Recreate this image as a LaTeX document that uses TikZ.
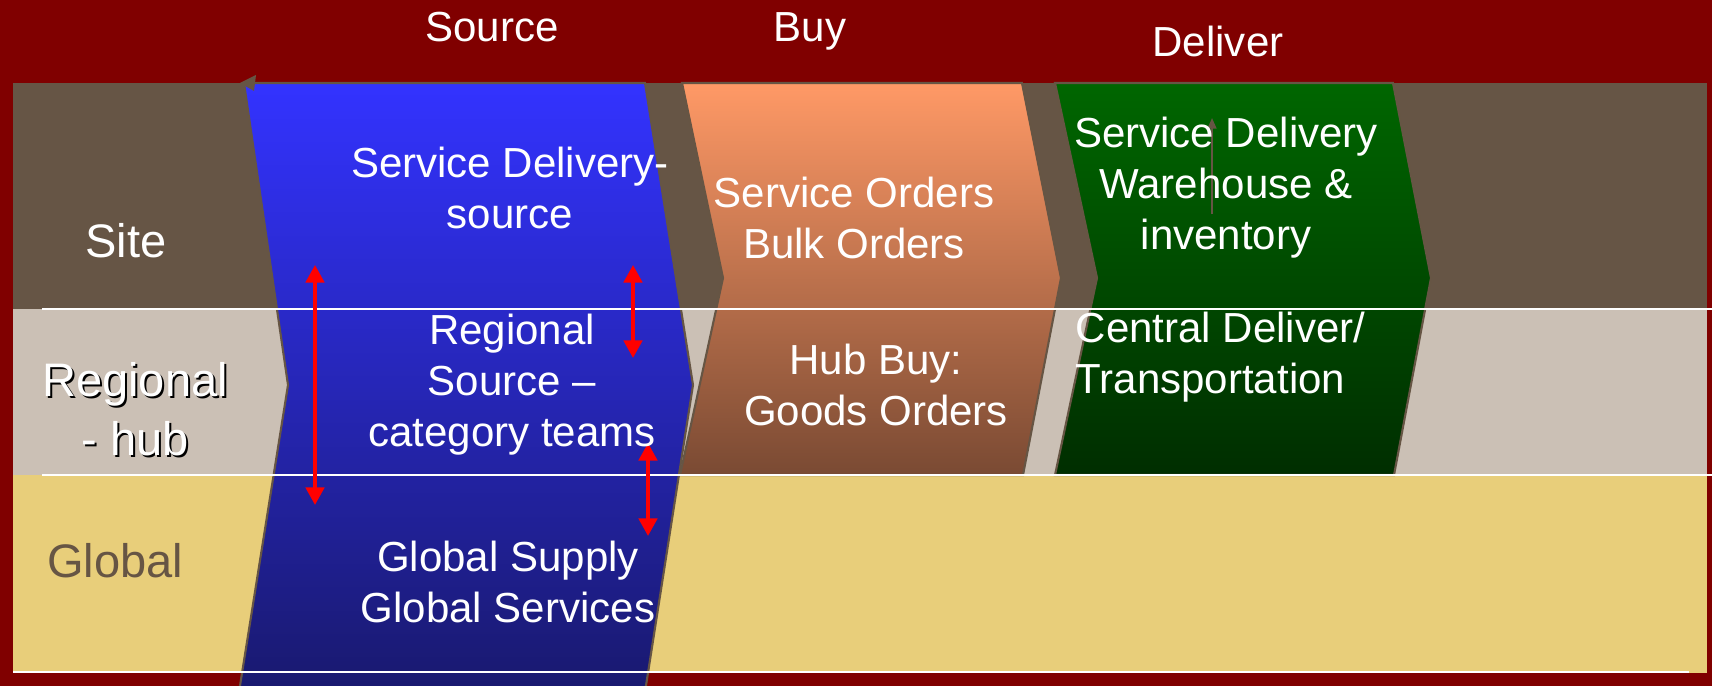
\documentclass[tikz,border=0pt]{standalone}
\usepackage{fontspec}
\setmainfont{Liberation Sans}
\usetikzlibrary{arrows.meta}
\definecolor{bgred}{RGB}{128,0,0}
\definecolor{sitebrown}{RGB}{102,85,69}
\definecolor{regtaupe}{RGB}{203,192,181}
\definecolor{globyel}{RGB}{232,206,122}
\definecolor{bluetop}{RGB}{51,51,255}
\definecolor{bluebot}{RGB}{25,25,110}
\definecolor{orangetop}{RGB}{255,153,102}
\definecolor{orangebot}{RGB}{122,74,51}
\definecolor{greentop}{RGB}{0,102,0}
\definecolor{greenbot}{RGB}{0,46,0}
\definecolor{edgegray}{RGB}{102,85,68}
\definecolor{arrred}{RGB}{255,0,0}
\newcommand\mlines[1]{\begin{tabular}[t]{@{}c@{}}#1\end{tabular}}
\newcommand\mlinesl[1]{\begin{tabular}[t]{@{}l@{}}#1\end{tabular}}
\begin{document}
\begin{tikzpicture}[x=0.01cm,y=-0.01cm,
  txt/.style={text=white,inner sep=0pt,anchor=base,font=\fontsize{11.95pt}{14.5pt}\selectfont},
  lbl/.style={inner sep=0pt,anchor=base,font=\fontsize{13.37pt}{16.5pt}\selectfont},
  lane/.style={draw=edgegray,line width=0.6pt,line join=miter},
  sep/.style={draw=white,line width=0.6pt},
  link/.style={draw=arrred,line width=1.1pt,{Triangle[length=5pt,width=5.2pt]}-{Triangle[length=5pt,width=5.2pt]}}
]
\fill[bgred] (0,0) rectangle (1712,686);
\useasboundingbox (0,0) rectangle (1712,686);
% bands
\fill[sitebrown] (13,83) rectangle (1707,309);
\fill[regtaupe] (13,309) rectangle (1707,475);
\fill[globyel] (13,475) rectangle (1707,673);
% Source chevron
\path[lane,top color=bluetop,bottom color=bluebot]
  (244,83) -- (645,83) -- (693,385) -- (645,692) -- (239,692) -- (288,385) -- cycle;
% Buy chevron
\path[lane,top color=orangetop,bottom color=orangebot]
  (682,83) -- (1022,83) -- (1061,278) -- (1023,475) -- (680,475) -- (723,278) -- cycle;
% Deliver chevron
\path[lane,top color=greentop,bottom color=greenbot]
  (1055,83) -- (1393,83) -- (1431,278) -- (1394,475) -- (1055,475) -- (1097,278) -- cycle;
% small grey tip
\fill[edgegray] (240,83) -- (256,75) -- (254,91) -- cycle;
% band separators
\draw[sep] (42,309) -- (1712,309);
\draw[sep] (42,475) -- (1712,475);
\draw[sep] (13,672) -- (1689,672);
% grey connector in deliver
\coordinate (ga) at (1212,214);
\coordinate (gb) at (1212,118);
\draw[edgegray,line width=0.6pt,-{Triangle[length=3pt,width=2.5pt]}] (ga) -- (gb);
% red arrows
\coordinate (ra1) at (315,265); \coordinate (rb1) at (315,505);
\coordinate (ra2) at (633,265); \coordinate (rb2) at (633,358);
\coordinate (ra3) at (648,443); \coordinate (rb3) at (648,536);
\draw[link] (ra1) -- (rb1);
\draw[link] (ra2) -- (rb2);
\draw[link] (ra3) -- (rb3);
% headers
\node[txt] (hsrc) at (492,42) {Source};
\node[txt] (hbuy) at (810,42) {Buy};
\node[txt] (hdel) at (1218,57) {Deliver};
% row labels
\node[lbl,text=white] (lsite) at (126,258) {Site};
\node[lbl,text=black] (lregs) at (137,399) {\mlines{Regional\\- hub}};
\node[lbl,text=white] (lreg) at (135,397) {\mlines{Regional\\- hub}};
\node[lbl,text=edgegray] (lglob) at (115,578) {Global};
% source texts
\node[txt] (s1) at (510,178) {\mlines{Service Delivery-\\source}};
\node[txt] (s2) at (512,345) {\mlines{Regional\\Source –\\category teams}};
\node[txt] (s3) at (508,572) {\mlines{Global Supply\\Global Services}};
% buy texts
\node[txt] (b1) at (854,208) {\mlines{Service Orders\\Bulk Orders}};
\node[txt] (b2) at (876,375) {\mlines{Hub Buy:\\Goods Orders}};
% deliver texts
\node[txt] (d1) at (1226,148) {\mlines{Service Delivery\\Warehouse \&\\inventory}};
\node[txt,anchor=base west] (d2) at (1075,343) {\mlinesl{Central Deliver/\\Transportation}};
\end{tikzpicture}
\end{document}
